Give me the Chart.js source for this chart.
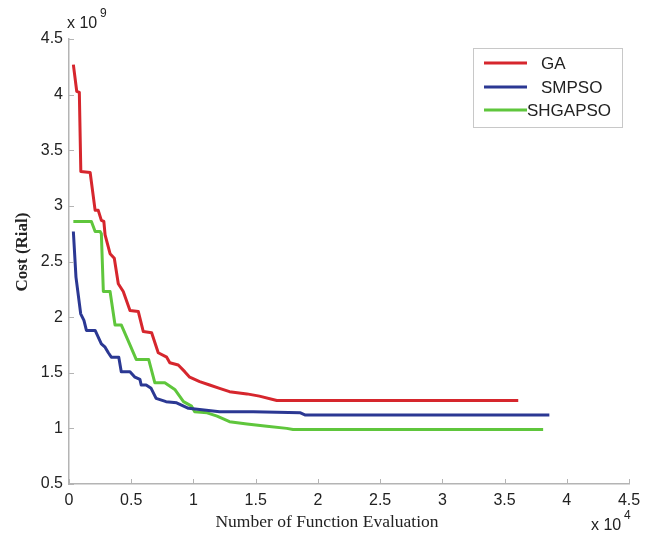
<!DOCTYPE html>
<html>
<head>
<meta charset="utf-8">
<script src="https://cdn.jsdelivr.net/npm/chart.js@4"></script>
<style>
  html, body { margin: 0; padding: 0; background: #fff; }
  #wrap { width: 652px; height: 536px; position: relative; }
</style>
</head>
<body>
<div id="wrap"><canvas id="c" width="652" height="536"></canvas></div>
<script>
// x values in units of 1e4 function evaluations, y values in units of 1e9 Rial
const seriesNames = ['GA', 'SMPSO', 'SHGAPSO'];

const gaX = [0.035, 0.062, 0.083, 0.095, 0.17, 0.21, 0.235, 0.26, 0.28, 0.29, 0.33, 0.364, 0.396, 0.436, 0.49, 0.557, 0.597, 0.664, 0.717, 0.785, 0.81, 0.878, 0.93, 0.97, 1.05, 1.13, 1.21, 1.29, 1.43, 1.53, 1.67, 3.61];
const gaY = [4.27, 4.03, 4.02, 3.31, 3.30, 2.96, 2.96, 2.87, 2.86, 2.74, 2.57, 2.53, 2.30, 2.23, 2.06, 2.05, 1.87, 1.86, 1.68, 1.64, 1.59, 1.57, 1.51, 1.46, 1.42, 1.39, 1.36, 1.33, 1.31, 1.29, 1.25, 1.25];

const smpsoX = [0.035, 0.056, 0.094, 0.12, 0.14, 0.21, 0.235, 0.26, 0.29, 0.316, 0.34, 0.40, 0.42, 0.49, 0.53, 0.57, 0.58, 0.62, 0.66, 0.70, 0.78, 0.865, 0.96, 1.05, 1.21, 1.48, 1.86, 1.90, 3.86];
const smpsoY = [2.77, 2.36, 2.03, 1.97, 1.88, 1.88, 1.82, 1.76, 1.73, 1.68, 1.64, 1.64, 1.51, 1.51, 1.46, 1.44, 1.39, 1.39, 1.36, 1.27, 1.24, 1.23, 1.18, 1.17, 1.15, 1.15, 1.14, 1.12, 1.12];

const shgapsoX = [0.035, 0.18, 0.21, 0.25, 0.26, 0.276, 0.33, 0.37, 0.42, 0.49, 0.54, 0.64, 0.69, 0.77, 0.85, 0.92, 0.985, 1.01, 1.11, 1.19, 1.29, 1.43, 1.59, 1.75, 1.80, 3.81];
const shgapsoY = [2.86, 2.86, 2.77, 2.77, 2.75, 2.23, 2.23, 1.93, 1.93, 1.75, 1.62, 1.62, 1.41, 1.41, 1.35, 1.24, 1.20, 1.15, 1.14, 1.11, 1.06, 1.04, 1.02, 1.00, 0.99, 0.99];

const xTickLabels = ['0', '0.5', '1', '1.5', '2', '2.5', '3', '3.5', '4', '4.5'];
const yTickLabels = ['0.5', '1', '1.5', '2', '2.5', '3', '3.5', '4', '4.5'];

const colors = ['#d6262d', '#2b3893', '#5fc63c'];

function toPoints(xs, ys) { return xs.map((x, i) => ({ x: x, y: ys[i] })); }

const AXIS_COLOR = '#b4b4b4';

const decorPlugin = {
  id: 'decor',
  afterDraw(chart) {
    const ctx = chart.ctx;
    const xs = chart.scales.x, ys = chart.scales.y;
    const a = chart.chartArea;
    ctx.save();
    // inward tick marks
    ctx.strokeStyle = AXIS_COLOR;
    ctx.lineWidth = 1;
    ctx.beginPath();
    xs.ticks.forEach(t => {
      const px = Math.round(xs.getPixelForValue(t.value)) + 0.5;
      ctx.moveTo(px, a.bottom);
      ctx.lineTo(px, a.bottom - 5);
    });
    ys.ticks.forEach(t => {
      const py = Math.round(ys.getPixelForValue(t.value)) + 0.5;
      ctx.moveTo(a.left, py);
      ctx.lineTo(a.left + 5, py);
    });
    ctx.stroke();

    // axis titles
    ctx.fillStyle = '#222';
    ctx.font = '17.5px "Liberation Serif", "Times New Roman", serif';
    ctx.textAlign = 'center';
    ctx.textBaseline = 'middle';
    ctx.fillText('Number of Function Evaluation', 327, 522);

    ctx.save();
    ctx.translate(23, 252);
    ctx.rotate(-Math.PI / 2);
    ctx.font = 'bold 17px "Liberation Serif", "Times New Roman", serif';
    ctx.fillText('Cost (Rial)', 0, 0);
    ctx.restore();

    // exponent annotations
    ctx.textAlign = 'left';
    ctx.textBaseline = 'alphabetic';
    ctx.font = '16px "Liberation Sans", Arial, sans-serif';
    ctx.fillText('x 10', 67, 28);
    ctx.fillText('x 10', 591, 530);
    ctx.font = '12px "Liberation Sans", Arial, sans-serif';
    ctx.fillText('9', 100, 17);
    ctx.fillText('4', 624, 519);

    // legend
    const lx = 473, ly = 48, lw = 149, lh = 79;
    ctx.fillStyle = '#fff';
    ctx.fillRect(lx, ly, lw, lh);
    ctx.strokeStyle = '#c8c8c8';
    ctx.lineWidth = 1;
    ctx.strokeRect(lx + 0.5, ly + 0.5, lw, lh);
    const rows = [63, 87, 110];
    const textX = [541, 541, 527];
    chart.data.datasets.forEach((ds, i) => {
      ctx.strokeStyle = ds.borderColor;
      ctx.lineWidth = 3;
      ctx.beginPath();
      ctx.moveTo(484, rows[i]);
      ctx.lineTo(527, rows[i]);
      ctx.stroke();
      ctx.fillStyle = '#222';
      ctx.font = '17px "Liberation Sans", Arial, sans-serif';
      ctx.textBaseline = 'middle';
      ctx.fillText(ds.label, textX[i], rows[i] + 1);
    });
    ctx.restore();
  }
};

const datasets = [
  { label: seriesNames[0], data: toPoints(gaX, gaY), borderColor: colors[0] },
  { label: seriesNames[1], data: toPoints(smpsoX, smpsoY), borderColor: colors[1] },
  { label: seriesNames[2], data: toPoints(shgapsoX, shgapsoY), borderColor: colors[2] }
].map(d => Object.assign(d, { borderWidth: 3, pointRadius: 0, fill: false, tension: 0, borderJoinStyle: 'round' }));

new Chart(document.getElementById('c'), {
  type: 'line',
  data: { datasets: datasets },
  options: {
    responsive: false,
    animation: false,
    devicePixelRatio: 1,
    layout: { padding: { left: 0, top: 39, right: 23, bottom: 0 } },
    plugins: { legend: { display: false }, tooltip: { enabled: false } },
    scales: {
      x: {
        type: 'linear',
        min: 0, max: 4.5,
        afterFit: s => { s.height = 52; },
        afterBuildTicks: s => { s.ticks = xTickLabels.map(l => ({ value: parseFloat(l) })); },
        ticks: {
          callback: (v, i) => xTickLabels[i],
          color: '#222',
          padding: 7,
          maxRotation: 0,
          autoSkip: false,
          font: { family: '"Liberation Sans", Arial, sans-serif', size: 16 }
        },
        grid: { drawOnChartArea: false, drawTicks: false },
        border: { display: true, color: AXIS_COLOR, width: 1.5 }
      },
      y: {
        type: 'linear',
        min: 0.5, max: 4.5,
        afterFit: s => { s.width = 69; },
        afterBuildTicks: s => { s.ticks = yTickLabels.map(l => ({ value: parseFloat(l) })); },
        ticks: {
          callback: (v, i) => yTickLabels[i],
          color: '#222',
          padding: 6,
          autoSkip: false,
          font: { family: '"Liberation Sans", Arial, sans-serif', size: 16 }
        },
        grid: { drawOnChartArea: false, drawTicks: false },
        border: { display: true, color: AXIS_COLOR, width: 1.5 }
      }
    }
  },
  plugins: [decorPlugin]
});
</script>
</body>
</html>
